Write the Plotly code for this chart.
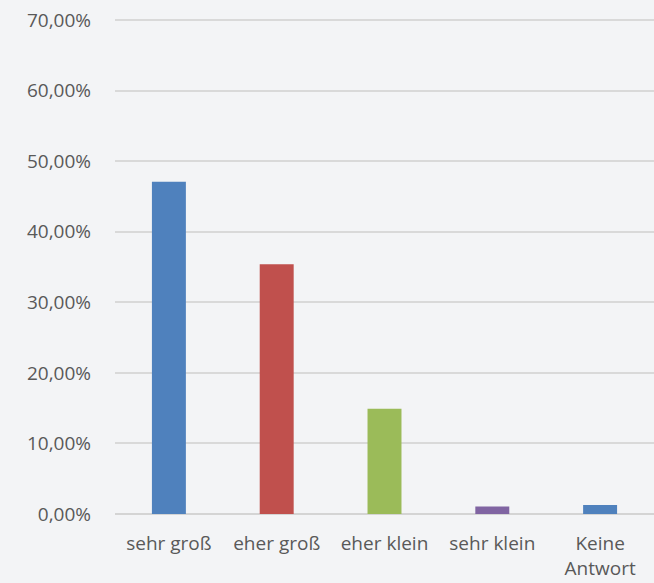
import plotly.graph_objects as go

categories = ["sehr groß", "eher groß", "eher klein", "sehr klein", "Keine<br>Antwort"]
shares = [0.471, 0.354, 0.149, 0.0105, 0.0128]
colors = ["#4f81bd", "#c0504d", "#9bbb59", "#8064a2", "#4f81bd"]

fig = go.Figure(
    go.Bar(
        x=categories,
        y=shares,
        marker=dict(color=colors, line=dict(width=0)),
        width=0.315,
    )
)

fig.update_layout(
    width=654,
    height=583,
    margin=dict(l=115, r=0, t=19, b=69),
    paper_bgcolor="#f3f4f6",
    plot_bgcolor="rgba(0,0,0,0)",
    separators=",.",
    showlegend=False,
    font=dict(family="Open Sans, Lato, sans-serif", size=19, color="#595959"),
)
fig.update_yaxes(
    range=[0, 0.7015],
    dtick=0.1,
    tickformat=".2%",
    showgrid=True,
    gridcolor="#d9d9d9",
    gridwidth=1.5,
    zeroline=True,
    zerolinecolor="#d4d4d4",
    zerolinewidth=2,
    ticklabelstandoff=23,
)
fig.update_xaxes(
    showgrid=False,
    ticklabelstandoff=16,
)

fig.write_html(
    "out.html",
    config={"displayModeBar": False},
    post_script="document.body.style.margin='0';document.body.style.background='#f3f4f6';",
)
